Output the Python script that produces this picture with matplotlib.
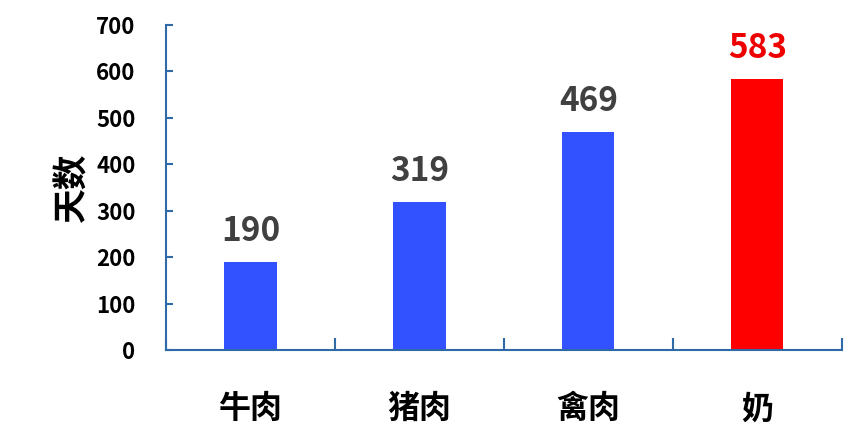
import matplotlib
matplotlib.use("Agg")
import matplotlib.pyplot as plt
import numpy as np

plt.rcParams['font.family'] = ['Noto Sans CJK SC', 'DejaVu Sans']

categories = ['牛肉', '猪肉', '禽肉', '奶']
days = [190, 319, 469, 583]
bar_colors = ['#3352FF', '#3352FF', '#3352FF', '#FF0000']
label_colors = ['#404040', '#404040', '#404040', '#EE0000']

spine_color = '#2E6AA8'

fig = plt.figure(figsize=(8.65, 4.46), dpi=100)
ax = fig.add_axes([0.192, 0.215, 0.781, 0.729])

x = np.arange(len(categories))
ax.bar(x, days, width=0.31, color=bar_colors, zorder=2)

for xi, v, c in zip(x, days, label_colors):
    ax.annotate(str(v), (xi, v), xytext=(0, 10), textcoords='offset points',
                ha='center', va='bottom', fontsize=24, fontweight='bold', color=c)

ax.set_xlim(-0.5, len(categories) - 0.5)
ax.set_ylim(0, 700)
ax.set_yticks(range(0, 701, 100))
ax.tick_params(axis='y', direction='in', length=5, color=spine_color, width=1.5,
               labelsize=16, pad=22)
for lab in ax.get_yticklabels():
    lab.set_fontweight('bold')

# category boundary ticks on x
ax.set_xticks(np.arange(-0.5, len(categories), 1.0))
ax.set_xticklabels([])
ax.set_xticks(x, minor=True)
ax.set_xticklabels(categories, minor=True, fontsize=23, fontweight='bold')
ax.tick_params(axis='x', which='major', direction='in', length=9, color=spine_color, width=1.5)
ax.tick_params(axis='x', which='minor', length=0, pad=31)

for s in ['top', 'right']:
    ax.spines[s].set_visible(False)
for s in ['left', 'bottom']:
    ax.spines[s].set_color(spine_color)
    ax.spines[s].set_linewidth(1.5)

ax.set_ylabel('天数', fontsize=25, fontweight='bold', labelpad=5)

fig.savefig('out.png', dpi=100)
